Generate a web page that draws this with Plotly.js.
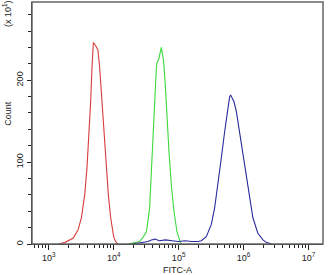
<!DOCTYPE html>
<html>
<head>
<meta charset="utf-8">
<script src="https://cdn.plot.ly/plotly-3.0.1.min.js"></script>
<style>html,body{margin:0;padding:0;background:#fff}#chart{width:328px;height:275px}</style>
</head>
<body>
<div id="chart"></div>
<script>
// FITC-A intensity (linear units) and event counts (x10^1)
const redX   = [1439, 1778, 2366, 2825, 3184, 3581, 3882, 4169, 4426, 4634, 4875, 5284, 5728, 6095, 6607, 7096, 7727, 8279, 8995, 10000, 10715, 11641];
const redY   = [0, 2, 7, 17, 32, 60, 93, 133, 174, 215, 246, 242, 237, 215, 174, 133, 93, 60, 32, 9, 3, 0];

const greenX = [16406, 19953, 25119, 28249, 31842, 33729, 35810, 38019, 40272, 42756, 45394, 46345, 49204, 54200, 58749, 62373, 66069, 70958, 77268, 84723, 94189, 107399, 112202];
const greenY = [0, 1, 3, 8, 15, 28, 45, 88, 133, 174, 215, 221, 225, 240, 223, 194, 154, 113, 72, 40, 15, 1, 0];

const blueX  = [19055, 22909, 28840, 33884, 38019, 43652, 50119, 63096, 79433, 100000, 125893, 158489, 199526, 223357, 266686, 318420, 358096, 402717, 453942, 510505, 561048, 609537, 630957, 709578, 772681, 866962, 974990, 1101539, 1235947, 1389953, 1659587, 1981527, 2238721, 2691535];
const blueY  = [0, 1, 2, 3, 5, 6, 4, 5, 4, 3, 4, 3, 3, 4, 9, 24, 44, 72, 105, 137, 162, 180, 182, 174, 162, 137, 113, 85, 56, 32, 13, 5, 2, 0];

const xTickVals = [1e3, 1e4, 1e5, 1e6, 1e7];
const xTickText = ['10<sup>3</sup>', '10<sup>4</sup>', '10<sup>5</sup>', '10<sup>6</sup>', '10<sup>7</sup>'];
const yTickVals = [0, 100, 200];
const yTickText = ['0', '100', '200'];

const xMinor = [];
for (let d = 2; d <= 6; d++) {
  for (let m = 2; m <= 9; m++) xMinor.push(m * Math.pow(10, d));
}
const yMinor = [];
for (let v = 0; v <= 280; v += 20) yMinor.push(v);

const font = {family: '"Liberation Sans", Arial, sans-serif', size: 9, color: '#222'};

const traces = [
  {x: redX, y: redY, mode: 'lines', line: {color: '#d83c3c', width: 1.1}, hoverinfo: 'skip'},
  {x: greenX, y: greenY, mode: 'lines', line: {color: '#3cd83c', width: 1.1}, hoverinfo: 'skip'},
  {x: blueX, y: blueY, mode: 'lines', line: {color: '#2a2a9c', width: 1.1}, hoverinfo: 'skip'}
];

const layout = {
  width: 328, height: 275,
  margin: {l: 32, r: 5, t: 2, b: 31, pad: 0},
  paper_bgcolor: '#fff', plot_bgcolor: '#fff',
  showlegend: false,
  font: font,
  xaxis: {
    type: 'log', range: [2.743, 7.222],
    tickmode: 'array', tickvals: xTickVals, ticktext: xTickText,
    ticks: 'outside', ticklen: 5, tickwidth: 1, tickcolor: '#222',
    minor: {tickmode: 'array', tickvals: xMinor, ticks: 'outside', ticklen: 3, tickwidth: 1, tickcolor: '#222', showgrid: false},
    showline: true, linecolor: '#222', linewidth: 1,
    showgrid: false, zeroline: false,
    tickfont: font,
    title: {text: 'FITC-A', font: font, standoff: 5}
  },
  yaxis: {
    range: [0, 295.5],
    tickmode: 'array', tickvals: yTickVals, ticktext: yTickText, tickangle: -90,
    ticks: 'outside', ticklen: 4, tickwidth: 1, tickcolor: '#222',
    minor: {tickmode: 'array', tickvals: yMinor, ticks: 'outside', ticklen: 3, tickwidth: 1, tickcolor: '#222', showgrid: false},
    showline: true, linecolor: '#222', linewidth: 1,
    showgrid: false, zeroline: false,
    tickfont: font
  },
  shapes: [
    {type: 'rect', xref: 'paper', yref: 'paper', x0: 0, x1: 1, y0: 0, y1: 1, line: {color: '#666', width: 1.5}, fillcolor: 'rgba(0,0,0,0)', layer: 'above'}
  ],
  annotations: [
    {text: 'Count', xref: 'paper', yref: 'paper', x: -24 / 291, y: 0.538, xanchor: 'center', yanchor: 'middle', textangle: -90, showarrow: false, font: font},
    {text: '(x 10<sup>1</sup>)', xref: 'paper', yref: 'paper', x: -25 / 291, y: 0.95, xanchor: 'center', yanchor: 'middle', textangle: -90, showarrow: false, font: font}
  ]
};

Plotly.newPlot('chart', traces, layout, {staticPlot: true, displayModeBar: false});
</script>
</body>
</html>
